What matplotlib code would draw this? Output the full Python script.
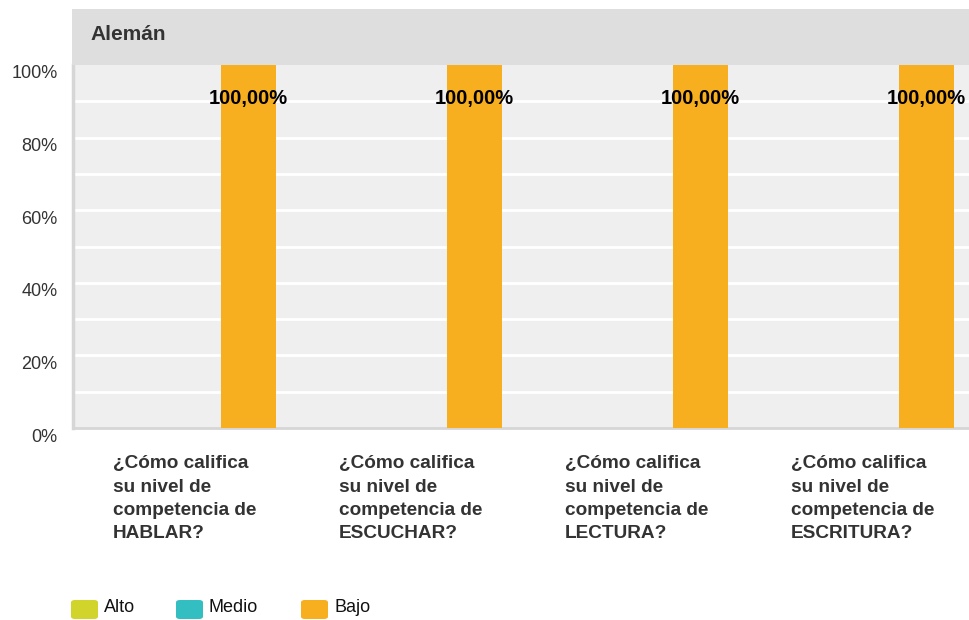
import matplotlib
matplotlib.use("Agg")
import matplotlib.pyplot as plt
import matplotlib.transforms as mtransforms
from matplotlib.patches import Rectangle, FancyBboxPatch
import numpy as np

plt.rcParams['font.family'] = ['Liberation Sans', 'DejaVu Sans']

title = "Alemán"
categories = [
    "¿Cómo califica\nsu nivel de\ncompetencia de\nHABLAR?",
    "¿Cómo califica\nsu nivel de\ncompetencia de\nESCUCHAR?",
    "¿Cómo califica\nsu nivel de\ncompetencia de\nLECTURA?",
    "¿Cómo califica\nsu nivel de\ncompetencia de\nESCRITURA?",
]
series_names = ["Alto", "Medio", "Bajo"]
alto = [0, 0, 0, 0]
medio = [0, 0, 0, 0]
bajo = [100, 100, 100, 100]
series_values = [alto, medio, bajo]
colors = ["#d1d52b", "#33bfc1", "#f7af1f"]
yticks = [0, 20, 40, 60, 80, 100]
ytick_labels = ["0%", "20%", "40%", "60%", "80%", "100%"]

W, H = 969, 620
fig = plt.figure(figsize=(W / 100, H / 100), dpi=100)
fig.patch.set_facecolor("white")

# header band
fig.patches.append(Rectangle((72 / W, 1 - 65 / H), (W - 72) / W, 56 / H,
                             transform=fig.transFigure, facecolor="#dedede",
                             edgecolor="none", zorder=0))
fig.text(90 / W, 1 - 35 / H, title, fontsize=15, fontweight="bold",
         color="#333333", va="center", ha="left")

ax = fig.add_axes([73 / W, 192 / H, (W - 73) / W, 363 / H])
ax.set_facecolor("#efefef")

x = np.arange(len(categories))
bw = 55 / 226
for k, (vals, col) in enumerate(zip(series_values, colors)):
    pos = x + (k - 1) * bw
    ax.bar(pos, vals, width=bw, color=col, zorder=3)
    for xi, v in zip(pos, vals):
        if v > 0:
            ax.annotate(f"{v:.2f}%".replace(".", ","), xy=(xi, v),
                        xytext=(0, -24.2), textcoords="offset points",
                        ha="center", va="center", fontsize=14.5,
                        fontweight="bold", color="black", zorder=5)

ax.set_xlim(-0.533, -0.533 + 896 / 226)
ax.set_ylim(0, 100)
ax.set_yticks(yticks)
ax.set_yticklabels(ytick_labels, fontsize=13, color="#333333")
ax.set_yticks([10, 30, 50, 70, 90], minor=True)
ax.grid(axis="y", which="both", color="white", linewidth=2, zorder=1)
ax.set_axisbelow(True)
glines = ax.yaxis.get_gridlines()
glines[0].set_visible(False)
glines[-1].set_visible(False)
ax.tick_params(axis="y", which="both", length=0, pad=11)
ax.set_xticks([])
offset = mtransforms.ScaledTranslation(0, -7 / 100, fig.dpi_scale_trans)
for lbl in ax.get_yticklabels():
    lbl.set_transform(lbl.get_transform() + offset)

for s in ["top", "right"]:
    ax.spines[s].set_visible(False)
ax.spines["left"].set_color("#d6d6d6")
ax.spines["left"].set_linewidth(2.5)
ax.spines["bottom"].set_color("#d6d6d6")
ax.spines["bottom"].set_linewidth(2)

trans = mtransforms.blended_transform_factory(ax.transData, ax.transAxes)
for xi, cat in zip(x, categories):
    ax.text(xi - 0.356, -27 / 363, cat, transform=trans, ha="left", va="top",
            fontsize=13.7, fontweight="bold", color="#333333",
            linespacing=1.5)

# legend
lx = [71, 176, 301]
for name, col, x0 in zip(series_names, colors, lx):
    fig.patches.append(FancyBboxPatch((x0 / W, 1 - 619 / H), 27 / W, 19 / H,
                                      boxstyle="round,pad=0,rounding_size=0.004",
                                      transform=fig.transFigure,
                                      facecolor=col, edgecolor="none"))
    fig.text((x0 + 33) / W, 1 - 607 / H, name, fontsize=13, color="#111111",
             va="center", ha="left")

fig.savefig("out.png", dpi=100)
